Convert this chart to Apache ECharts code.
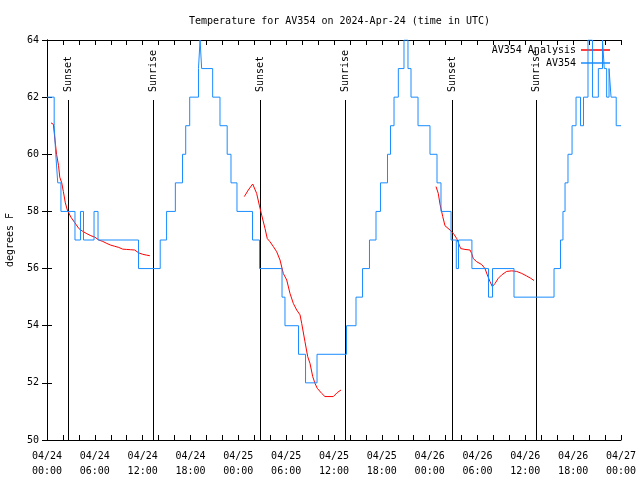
<!DOCTYPE html>
<html><head><meta charset="utf-8">
<script src="https://cdn.jsdelivr.net/npm/echarts@6/dist/echarts.min.js"></script>
<style>html,body{margin:0;padding:0;background:#fff}#c{width:640px;height:480px}</style>
</head><body><div id="c"></div>
<script>
const FONT = 'DejaVu Sans Mono';
const titleText = 'Temperature for AV354 on 2024-Apr-24 (time in UTC)';
const yName = 'degrees F';
// x axis: hours since 2024-04-24 00:00 UTC
const tickDates = ['04/24','04/24','04/24','04/24','04/25','04/25','04/25','04/25','04/26','04/26','04/26','04/26','04/27'];
const tickTimes = ['00:00','06:00','12:00','18:00','00:00','06:00','12:00','18:00','00:00','06:00','12:00','18:00','00:00'];
const yTicks = [50,52,54,56,58,60,62,64];

const sunHours = [2.63, 13.34, 26.72, 37.38, 50.85, 61.4];
const sunLabels = ['Sunset','Sunrise','Sunset','Sunrise','Sunset','Sunrise'];

// AV354 observations (value holds from time until next time)
const obsHours = [0, 0.9, 1.1, 1.35, 1.75, 3.51, 4.2, 4.58, 5.9, 6.4, 11.48, 14.2, 15.0, 16.1, 17.0, 17.4, 17.9, 19.0, 19.2, 19.4, 20.78, 21.7, 22.6, 23.08, 23.83, 25.78, 26.66, 29.48, 29.85, 31.55, 32.43, 33.87, 37.57, 38.76, 39.58, 40.45, 41.27, 41.83, 42.71, 43.09, 43.53, 44.07, 44.78, 45.28, 45.66, 46.54, 48.04, 48.92, 49.42, 50.68, 51.34, 51.62, 53.3, 55.38, 55.88, 58.58, 63.6, 64.41, 64.72, 64.98, 65.35, 65.86, 66.36, 66.92, 67.3, 67.86, 68.42, 69.16, 69.68, 69.9, 70.2, 70.5, 70.75, 71.4, 72];
const obsTemps = [62, 61, 60, 59, 58, 57, 58, 57, 58, 57, 56, 57, 58, 59, 60, 61, 62, 63, 64, 63, 62, 61, 60, 59, 58, 57, 56, 55, 54, 53, 52, 53, 54, 55, 56, 57, 58, 59, 60, 61, 62, 63, 64, 63, 62, 61, 60, 59, 58, 57, 56, 57, 56, 55, 56, 55, 56, 57, 58, 59, 60, 61, 62, 61, 62, 64, 62, 63, 64, 63, 62, 63, 62, 61, 61];

// AV354 Analysis (three segments)
const anaHours1 = [0.5, 0.8, 1.0, 1.2, 1.45, 1.6, 1.85, 2.05, 2.3, 2.55, 3.0, 3.5, 4.0, 4.5, 5.0, 5.5, 6.0, 6.5, 7.0, 7.5, 8.0, 8.5, 9.0, 9.5, 10.0, 10.5, 11.0, 11.5, 12.0, 12.5, 12.9];
const anaTemps1 = [61.1, 61.05, 60.5, 60.0, 59.6, 59.2, 59.0, 58.7, 58.3, 58.05, 57.8, 57.6, 57.4, 57.3, 57.22, 57.15, 57.1, 57.0, 56.95, 56.88, 56.82, 56.78, 56.74, 56.68, 56.67, 56.66, 56.65, 56.55, 56.5, 56.47, 56.45];
const anaHours2 = [24.75, 25.25, 25.8, 26.0, 26.3, 26.63, 26.93, 27.35, 27.63, 27.97, 28.39, 28.81, 29.23, 29.64, 30.07, 30.48, 30.9, 31.32, 31.74, 31.95, 32.36, 32.7, 32.99, 33.33, 33.62, 33.9, 34.46, 34.87, 35.91, 36.41, 36.88];
const anaTemps2 = [58.52, 58.75, 58.96, 58.93, 58.63, 58.22, 57.87, 57.4, 57.05, 56.94, 56.77, 56.59, 56.3, 55.83, 55.6, 55.13, 54.78, 54.55, 54.38, 54.08, 53.44, 52.92, 52.68, 52.22, 51.98, 51.81, 51.63, 51.52, 51.52, 51.66, 51.75];
const anaHours3 = [48.8, 49.08, 49.3, 49.64, 49.92, 50.13, 50.55, 51.05, 51.39, 51.72, 51.89, 52.43, 53.06, 53.27, 53.47, 53.9, 54.53, 54.94, 55.23, 55.57, 55.86, 56.2, 56.61, 57.04, 57.66, 58.29, 58.92, 59.55, 60.17, 60.68, 61.09];
const anaTemps3 = [58.87, 58.63, 58.25, 57.82, 57.5, 57.45, 57.35, 57.2, 57.05, 56.82, 56.7, 56.67, 56.65, 56.53, 56.35, 56.24, 56.14, 56.0, 55.78, 55.54, 55.37, 55.48, 55.66, 55.78, 55.9, 55.92, 55.9, 55.83, 55.74, 55.66, 55.58];

const zip = (a, b) => a.map((v, i) => [v, b[i]]);
const anaData = [].concat(zip(anaHours1, anaTemps1), [[18, '-']], zip(anaHours2, anaTemps2), [[42, '-']], zip(anaHours3, anaTemps3));
const obsData = zip(obsHours, obsTemps);

const RED = '#ff0000', BLUE = '#1a8cff';
const txt = {fontFamily: FONT, fontSize: 10, color: '#000'};

const chart = echarts.init(document.getElementById('c'), null, {renderer: 'canvas'});
const xBase = {
  type: 'value', min: 0, max: 72, interval: 2,
  axisLine: {show: true, lineStyle: {color: '#000', width: 1}},
  axisTick: {show: true, inside: true, length: 5, lineStyle: {color: '#000'}},
  splitLine: {show: false}
};
const yBase = {
  type: 'value', min: yTicks[0], max: yTicks[yTicks.length - 1], interval: 2,
  axisLine: {show: true, lineStyle: {color: '#000', width: 1}},
  axisTick: {show: true, inside: true, length: 5, lineStyle: {color: '#000'}},
  splitLine: {show: false}
};
chart.setOption({
  animation: false,
  backgroundColor: '#fff',
  title: {text: titleText, left: 184, top: 11, textStyle: Object.assign({}, txt, {fontWeight: 'normal'})},
  grid: {left: 47, right: 19, top: 40, bottom: 40, containLabel: false, outerBoundsMode: 'none'},
  legend: [
    {data: ['AV354 Analysis'], right: 30, top: 45, orient: 'vertical', align: 'right', icon: 'rect', itemWidth: 29, itemHeight: 1.5, textStyle: txt, padding: 0},
    {data: ['AV354'], right: 30, top: 58, orient: 'vertical', align: 'right', icon: 'rect', itemWidth: 29, itemHeight: 1.5, textStyle: txt, padding: 0}
  ],
  xAxis: [
    Object.assign({}, xBase, {position: 'bottom', axisLabel: {show: true, margin: 9, lineHeight: 15, fontFamily: FONT, fontSize: 10, color: '#000', showMinLabel: true, showMaxLabel: true,
      formatter: v => (v % 6 === 0) ? tickDates[v / 6] + '\n' + tickTimes[v / 6] : ''}}),
    Object.assign({}, xBase, {position: 'top', axisLabel: {show: false}})
  ],
  yAxis: [
    Object.assign({}, yBase, {position: 'left', name: yName, nameLocation: 'middle', nameGap: 32, nameRotate: 90, nameTextStyle: txt,
      axisLabel: {show: true, margin: 8, fontFamily: FONT, fontSize: 10, color: '#000'}}),
    Object.assign({}, yBase, {position: 'right', axisLabel: {show: false}})
  ],
  series: [
    {
      type: 'custom', name: 'sun', silent: true, clip: false, z: 3,
      data: sunHours.map((h, i) => [h, i]),
      encode: {x: 0},
      renderItem: function (params, api) {
        const h = api.value(0);
        const pb = api.coord([h, yTicks[0]]);
        const pt = api.coord([h, yTicks[yTicks.length - 1]]);
        const x = Math.round(pb[0]) + 0.5;
        return {type: 'group', children: [
          {type: 'line', shape: {x1: x, y1: pt[1] + 60, x2: x, y2: pb[1]}, style: {stroke: '#000', lineWidth: 1}},
          {type: 'text', x: x, y: pt[1] + 52, rotation: Math.PI / 2,
            style: {text: sunLabels[api.value(1)], font: '10px "DejaVu Sans Mono"', fill: '#000', align: 'left', verticalAlign: 'middle'}}
        ]};
      }
    },
    {name: 'AV354 Analysis', type: 'line', data: anaData, showSymbol: false, symbol: 'none', connectNulls: false,
      lineStyle: {color: RED, width: 1}, itemStyle: {color: RED}, z: 4},
    {name: 'AV354', type: 'line', data: obsData, step: 'end', showSymbol: false, symbol: 'none',
      lineStyle: {color: BLUE, width: 1}, itemStyle: {color: BLUE}, z: 5}
  ]
});
</script></body></html>
